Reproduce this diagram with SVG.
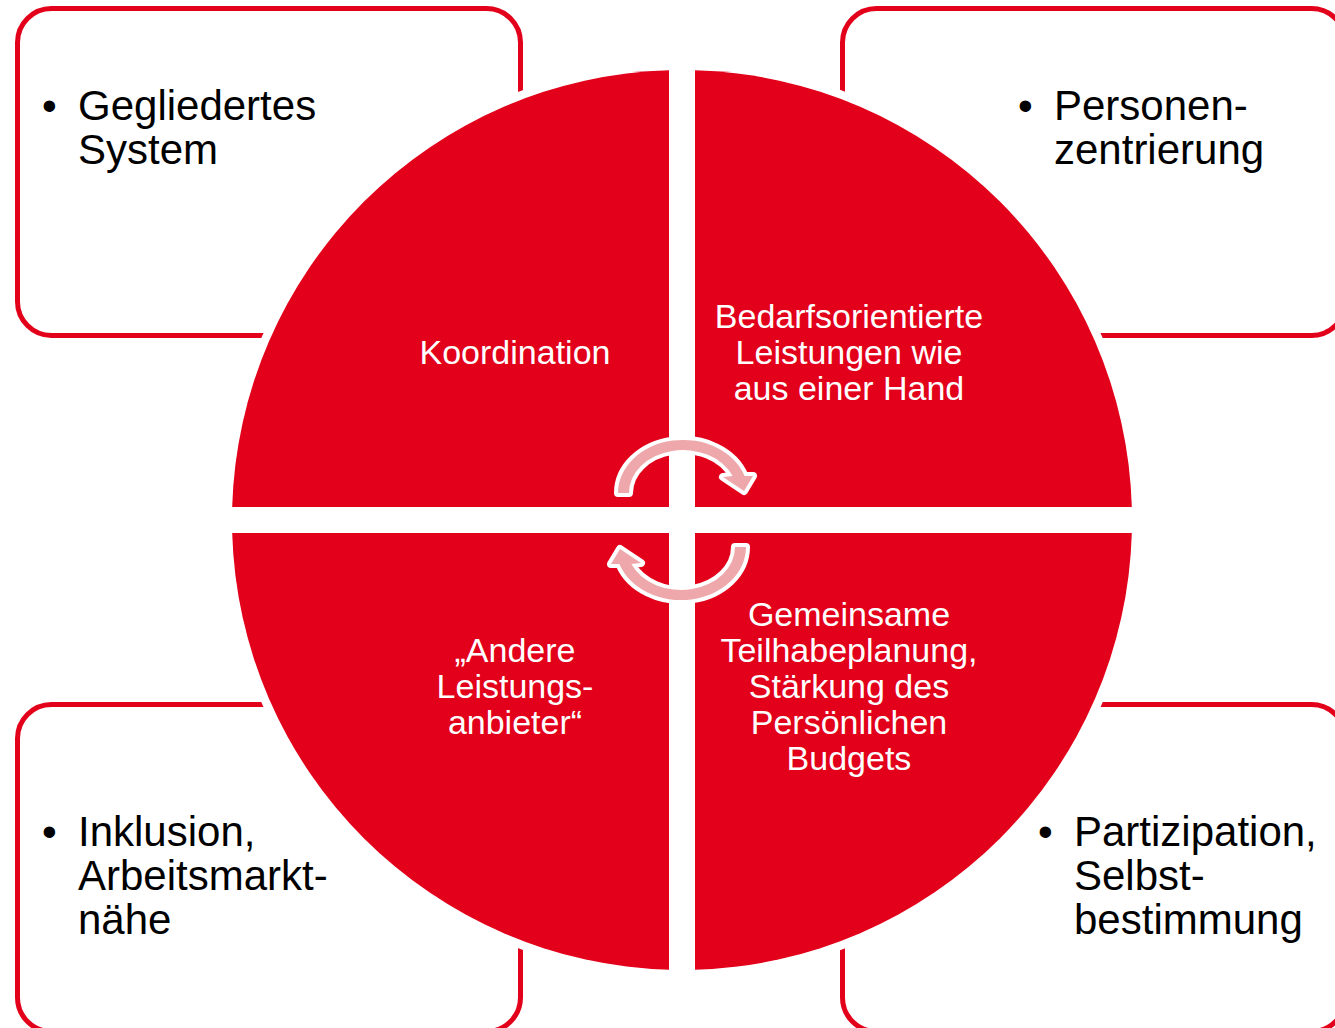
<svg xmlns="http://www.w3.org/2000/svg" width="1335" height="1028" viewBox="0 0 1335 1028">
  <defs>
    <style>
      .box { fill: #FFFFFF; stroke: #E2001A; stroke-width: 5; }
      .quad { fill: #E2001A; stroke: #FFFFFF; stroke-width: 17; paint-order: stroke; }
      .arrow { fill: #EEA8AC; stroke: #FFFFFF; stroke-width: 8; stroke-linejoin: round; paint-order: stroke; }
      .outer { font-family: "Liberation Sans", Arial, sans-serif; font-size: 42px; fill: #000000; }
      .inner { font-family: "Liberation Sans", Arial, sans-serif; font-size: 34px; fill: #FFFFFF; text-anchor: middle; }
    </style>
  </defs>
  <rect width="1335" height="1028" fill="#FFFFFF"/>

  <g id="box-tl">
    <rect class="box" x="17.5" y="8.5" width="503" height="327" rx="34"/>
    <text class="outer" x="42" y="120">•</text>
    <text class="outer" x="78" y="120">Gegliedertes</text>
    <text class="outer" x="78" y="164">System</text>
  </g>
  <g id="box-tr">
    <rect class="box" x="842.5" y="8.5" width="503" height="327" rx="34"/>
    <text class="outer" x="1018" y="120">•</text>
    <text class="outer" x="1054" y="120">Personen-</text>
    <text class="outer" x="1054" y="164">zentrierung</text>
  </g>
  <g id="box-bl">
    <rect class="box" x="17.5" y="704.5" width="503" height="327" rx="34"/>
    <text class="outer" x="42" y="846">•</text>
    <text class="outer" x="78" y="846">Inklusion,</text>
    <text class="outer" x="78" y="890">Arbeitsmarkt-</text>
    <text class="outer" x="78" y="934">nähe</text>
  </g>
  <g id="box-br">
    <rect class="box" x="842.5" y="704.5" width="503" height="327" rx="34"/>
    <text class="outer" x="1038" y="846">•</text>
    <text class="outer" x="1074" y="846">Partizipation,</text>
    <text class="outer" x="1074" y="890">Selbst-</text>
    <text class="outer" x="1074" y="934">bestimmung</text>
  </g>

  <g id="quad-tl">
    <path class="quad" d="M669 507 L669 70.19 A450 450 0 0 0 232.19 507 Z"/>
    <text class="inner" x="515" y="364">Koordination</text>
  </g>
  <g id="quad-tr">
    <path class="quad" d="M695 507 L695 70.19 A450 450 0 0 1 1131.81 507 Z"/>
    <text class="inner" x="849" y="328">Bedarfsorientierte</text>
    <text class="inner" x="849" y="364">Leistungen wie</text>
    <text class="inner" x="849" y="400">aus einer Hand</text>
  </g>
  <g id="quad-bl">
    <path class="quad" d="M669 533 L669 969.81 A450 450 0 0 1 232.19 533 Z"/>
    <text class="inner" x="515" y="662">„Andere</text>
    <text class="inner" x="515" y="698">Leistungs-</text>
    <text class="inner" x="515" y="734">anbieter“</text>
  </g>
  <g id="quad-br">
    <path class="quad" d="M695 533 L1131.81 533 A450 450 0 0 1 695 969.81 Z"/>
    <text class="inner" x="849" y="626">Gemeinsame</text>
    <text class="inner" x="849" y="662">Teilhabeplanung,</text>
    <text class="inner" x="849" y="698">Stärkung des</text>
    <text class="inner" x="849" y="734">Persönlichen</text>
    <text class="inner" x="849" y="770">Budgets</text>
  </g>

  <g id="connectors">
    <path id="arrow-top" class="arrow" d="M618 493 A65 53 0 0 1 744.6 476 L753 476 L744 491 L723 477 L732.6 476 A54 43 0 0 0 629 493 Z"/>
    <path id="arrow-bottom" class="arrow" transform="rotate(180 682 520)" d="M618 493 A65 53 0 0 1 744.6 476 L753 476 L744 491 L723 477 L732.6 476 A54 43 0 0 0 629 493 Z"/>
  </g>
</svg>
